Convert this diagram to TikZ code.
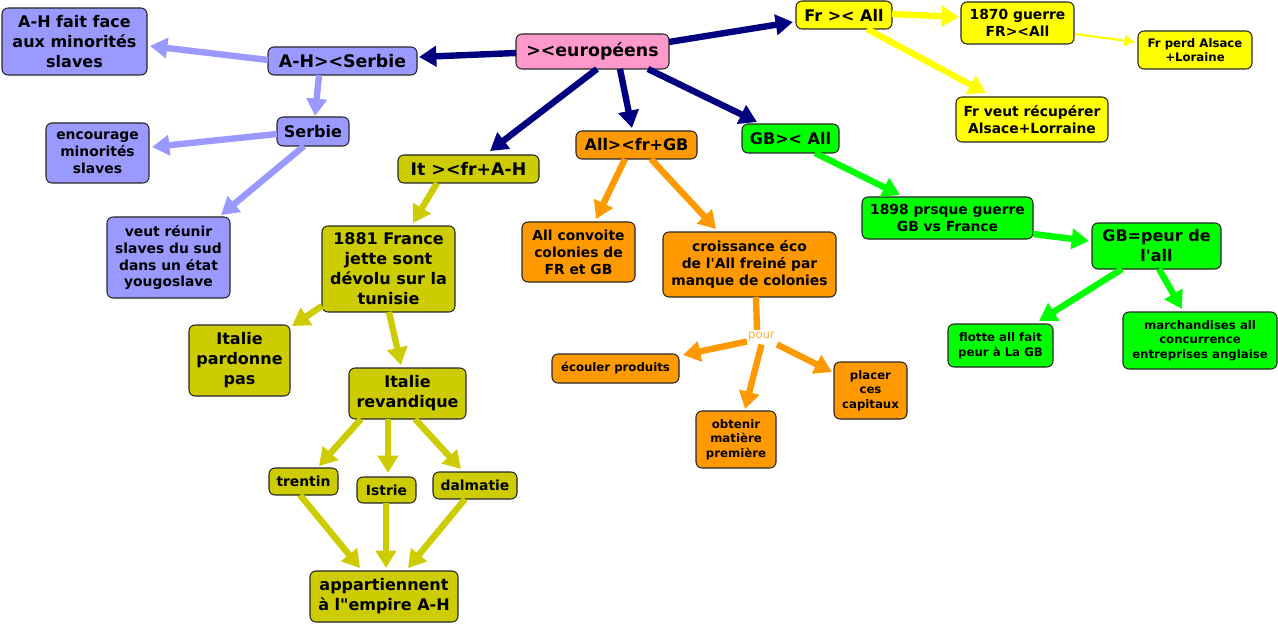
\documentclass[tikz,border=0pt]{standalone}
\usepackage{fontspec}
\setmainfont{DejaVu Sans}[Ligatures=TeXOff]
\usetikzlibrary{arrows.meta}
\definecolor{navy}{HTML}{000080}
\definecolor{lav}{HTML}{9999FF}
\definecolor{olive}{HTML}{CCCC00}
\definecolor{orng}{HTML}{FF9900}
\definecolor{grn}{HTML}{00FF00}
\definecolor{ylw}{HTML}{FFFF00}
\definecolor{pnk}{HTML}{FF99CC}
\definecolor{pourc}{HTML}{FFB040}
\tikzset{
  box/.style={draw=black!85, line width=0.8pt, rounded corners=4.5pt, inner sep=0pt, align=center, text=black},
  big/.style={font=\bfseries\fontsize{13}{16}\selectfont},
  lrg/.style={font=\bfseries\fontsize{12}{15}\selectfont},
  med/.style={font=\bfseries\fontsize{10.4}{12.7}\selectfont},
  sml/.style={font=\bfseries\fontsize{8.8}{10.9}\selectfont},
  con/.style={line width=4.8pt, -{Triangle[length=13pt,width=15pt]}},
  conplain/.style={line width=4.8pt},
  thin/.style={line width=1.6pt, -{Triangle[length=8pt,width=8pt]}},
}
\begin{document}
\begin{tikzpicture}[x=0.75pt,y=-0.75pt]
\useasboundingbox (0,0) rectangle (1278,624);
% nodes
\node[box,lrg,fill=lav,minimum width=108.75pt,minimum height=50.25pt] (ahface) at (74.5,41.5) {A-H fait face\\aux minorités\\slaves};
\node[box,big,fill=lav,minimum width=111.75pt,minimum height=21pt] (ahserbie) at (342.5,61) {A-H><Serbie};
\node[box,lrg,fill=lav,minimum width=54pt,minimum height=21.75pt] (serbie) at (313,131.5) {Serbie};
\node[box,med,fill=lav,minimum width=77.25pt,minimum height=45pt] (encourage) at (97.5,153) {encourage\\minorités\\slaves};
\node[box,med,fill=lav,minimum width=92.25pt,minimum height=60.75pt] (reunir) at (168.5,257.5) {veut réunir\\slaves du sud\\dans un état\\yougoslave};
\node[box,big,fill=pnk,minimum width=114.75pt,minimum height=26.25pt] (europeens) at (592.5,51.5) {><européens};
\node[box,big,fill=olive,minimum width=105.75pt,minimum height=21pt] (it) at (468.5,169) {It ><fr+A-H};
\node[box,lrg,fill=orng,minimum width=90.75pt,minimum height=21pt] (allfr) at (636.5,145) {All><fr+GB};
\node[box,lrg,fill=grn,minimum width=72.75pt,minimum height=21.75pt] (gball) at (790.5,138.5) {GB>< All};
\node[box,lrg,fill=ylw,minimum width=72pt,minimum height=21pt] (frall) at (844,15) {Fr >< All};
\node[box,med,fill=ylw,minimum width=84.75pt,minimum height=31.5pt] (g1870) at (1017.5,23) {1870 guerre\\FR><All};
\node[box,sml,fill=ylw,minimum width=85.5pt,minimum height=28.5pt] (frperd) at (1195,50) {Fr perd Alsace\\+Loraine};
\node[box,med,fill=ylw,minimum width=114pt,minimum height=33.75pt] (frveut) at (1032,119.5) {Fr veut récupérer\\Alsace+Lorraine};
\node[box,med,fill=grn,minimum width=128.25pt,minimum height=31.5pt] (g1898) at (947.5,218) {1898 prsque guerre\\GB vs France};
\node[box,lrg,fill=grn,minimum width=96.75pt,minimum height=34.5pt] (peur) at (1156.5,246) {GB=peur de\\l'all};
\node[box,sml,fill=grn,minimum width=78.75pt,minimum height=32.25pt] (flotte) at (1000.5,345.5) {flotte all fait\\peur à La GB};
\node[box,sml,fill=grn,minimum width=115.5pt,minimum height=42.75pt] (march) at (1200,340.5) {marchandises all\\concurrence\\entreprises anglaise};
\node[box,med,fill=orng,minimum width=84.75pt,minimum height=45pt] (convoite) at (578.5,252) {All convoite\\colonies de\\FR et GB};
\node[box,med,fill=orng,minimum width=129.75pt,minimum height=48.75pt] (croissance) at (749.5,264.5) {croissance éco\\de l'All freiné par\\manque de colonies};
\node[box,sml,fill=orng,minimum width=95.25pt,minimum height=21.75pt] (ecouler) at (615.5,368.5) {écouler produits};
\node[box,sml,fill=orng,minimum width=60pt,minimum height=42.75pt] (obtenir) at (736,439.5) {obtenir\\matière\\première};
\node[box,sml,fill=orng,minimum width=54.75pt,minimum height=42.75pt] (placer) at (870.5,390.5) {placer\\ces\\capitaux};
\node[box,lrg,fill=olive,minimum width=99.75pt,minimum height=64.5pt] (n1881) at (388.5,269) {1881 France\\jette sont\\dévolu sur la\\tunisie};
\node[box,lrg,fill=olive,minimum width=75.75pt,minimum height=53.25pt] (pardonne) at (239.5,360.5) {Italie\\pardonne\\pas};
\node[box,lrg,fill=olive,minimum width=87.75pt,minimum height=38.25pt] (revand) at (407.5,393.5) {Italie\\revandique};
\node[box,med,fill=olive,minimum width=51.75pt,minimum height=20.25pt] (trentin) at (303.5,481.5) {trentin};
\node[box,med,fill=olive,minimum width=44.25pt,minimum height=19.5pt] (istrie) at (386.5,490) {Istrie};
\node[box,med,fill=olive,minimum width=63pt,minimum height=20.25pt] (dalmatie) at (475,485.5) {dalmatie};
\node[box,lrg,fill=olive,minimum width=111pt,minimum height=38.25pt] (appart) at (384,596.5) {appartiennent\\à l"empire A-H};
\node[inner sep=0pt,text=pourc,font=\fontsize{8.8}{10}\selectfont] (pour) at (761.5,336) {pour};
% navy
\begin{scope}[navy]
\draw[con] ([shift={(-76.5,1.5)}]europeens.center) -- ([shift={(76.5,-4)}]ahserbie.center);
\draw[con] ([shift={(4.5,17.5)}]europeens.center) -- ([shift={(21.5,-18)}]it.center);
\draw[con] ([shift={(27.5,17.5)}]europeens.center) -- ([shift={(-4.5,-17)}]allfr.center);
\draw[con] ([shift={(55.5,17.5)}]europeens.center) -- ([shift={(-33.5,-16.5)}]gball.center);
\draw[con] ([shift={(76.5,-9.5)}]europeens.center) -- ([shift={(-51,7)}]frall.center);
\end{scope}
% lavender
\begin{scope}[lav]
\draw[con] ([shift={(-74.5,-1)}]ahserbie.center) -- ([shift={(75.5,4.5)}]ahface.center);
\draw[con] ([shift={(-23.5,14)}]ahserbie.center) -- ([shift={(2,-15.5)}]serbie.center);
\draw[con] ([shift={(-36,2.5)}]serbie.center) -- ([shift={(54.5,-6)}]encourage.center);
\draw[con] ([shift={(-9,14.5)}]serbie.center) -- ([shift={(52.5,-42.5)}]reunir.center);
\end{scope}
% olive
\begin{scope}[olive]
\draw[con] ([shift={(-31.5,14)}]it.center) -- ([shift={(24.5,-46)}]n1881.center);
\draw[con] ([shift={(-66.5,37)}]n1881.center) -- ([shift={(52.5,-34.5)}]pardonne.center);
\draw[con] ([shift={(0.5,43)}]n1881.center) -- ([shift={(-6.5,-28.5)}]revand.center);
\draw[con] ([shift={(-46.5,25.5)}]revand.center) -- ([shift={(15.5,-15.5)}]trentin.center);
\draw[con] ([shift={(-19.5,25.5)}]revand.center) -- ([shift={(1.5,-17)}]istrie.center);
\draw[con] ([shift={(7.5,25.5)}]revand.center) -- ([shift={(-14,-16.5)}]dalmatie.center);
\draw[con] ([shift={(-3.5,13.5)}]trentin.center) -- ([shift={(-24,-28.5)}]appart.center);
\draw[con] ([shift={(-0.5,13)}]istrie.center) -- ([shift={(2,-28.5)}]appart.center);
\draw[con] ([shift={(-10,13.5)}]dalmatie.center) -- ([shift={(24,-28.5)}]appart.center);
\end{scope}
% orange
\begin{scope}[orng]
\draw[con] ([shift={(-11.5,14)}]allfr.center) -- ([shift={(17.5,-33)}]convoite.center);
\draw[con] ([shift={(14.5,14)}]allfr.center) -- ([shift={(-33.5,-35.5)}]croissance.center);
\draw[conplain] ([shift={(6.5,32.5)}]croissance.center) -- ([shift={(-4.5,-6)}]pour.center);
\draw[con] ([shift={(-14.5,5.5)}]pour.center) -- ([shift={(67.5,-13.5)}]ecouler.center);
\draw[con] ([shift={(0,8.5)}]pour.center) -- ([shift={(9,-30.5)}]obtenir.center);
\draw[con] ([shift={(15.5,8.5)}]pour.center) -- ([shift={(-38.5,-18.5)}]placer.center);
\end{scope}
% green
\begin{scope}[grn]
\draw[con] ([shift={(24.5,14.5)}]gball.center) -- ([shift={(-47.5,-23)}]g1898.center);
\draw[con] ([shift={(85.5,16)}]g1898.center) -- ([shift={(-67.5,-5)}]peur.center);
\draw[con] ([shift={(-34.5,23)}]peur.center) -- ([shift={(38.5,-24.5)}]flotte.center);
\draw[con] ([shift={(2.5,23)}]peur.center) -- ([shift={(-18,-31.5)}]march.center);
\end{scope}
% yellow
\begin{scope}[ylw]
\draw[con] ([shift={(48,-1)}]frall.center) -- ([shift={(-58.5,-6)}]g1870.center);
\draw[con] ([shift={(23,14)}]frall.center) -- ([shift={(-46,-26.5)}]frveut.center);
\draw[thin] ([shift={(57.5,11)}]g1870.center) -- ([shift={(-60,-8)}]frperd.center);
\end{scope}
\end{tikzpicture}
\end{document}
